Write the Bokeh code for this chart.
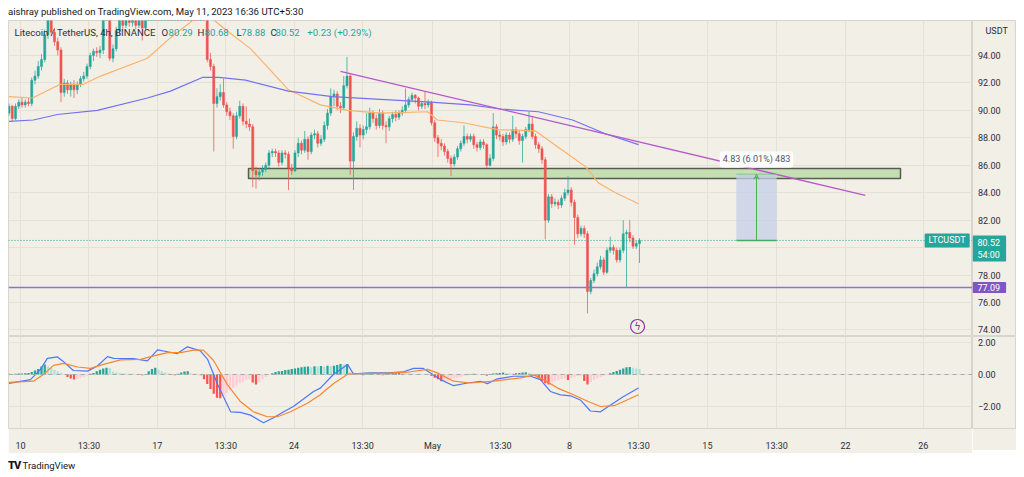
from bokeh.plotting import figure
from bokeh.layouts import column, row
from bokeh.models import (Range1d, FixedTicker, CustomJSTickFormatter,
                          Span, Label, Arrow, VeeHead, Div, ColumnDataSource)
from bokeh.core.properties import value
from bokeh.embed import file_html
from bokeh.resources import INLINE

# LTC/USDT 4h candles, Apr 9 05:30 .. May 11 13:30 (UTC+5:30)
opens = [89.8, 90.3, 89.4, 90.3, 90.6, 90.4, 90.6, 90.5, 92.2, 92.5,
         93.2, 93.7, 95.5, 97.0, 95.7, 95.0, 94.4, 91.3, 92.0, 91.5,
         91.9, 91.5, 91.9, 92.3, 92.5, 93.2, 94.0, 94.3, 94.2, 94.4,
         97.2, 97.5, 93.8, 94.5, 95.8, 96.6, 96.2, 96.8, 96.4, 96.6,
         96.2, 96.8, 96.0, 96.9, 97.3, 97.8, 98.4, 98.1, 98.9, 99.5,
         99.1, 99.8, 100.4, 99.9, 100.3, 99.6, 99.0, 99.3, 98.8, 98.4,
         98.6, 98.0, 93.7, 93.2, 90.5, 91.0, 91.3, 90.4, 89.9, 89.6,
         88.1, 89.6, 90.3, 89.2, 89.0, 88.8, 85.6, 85.3, 85.5, 85.7,
         86.0, 86.9, 87.0, 86.9, 86.2, 86.9, 86.8, 85.8, 85.6, 86.9,
         87.6, 87.1, 87.9, 87.0, 88.2, 88.3, 87.6, 87.9, 88.9, 89.8,
         91.0, 91.2, 90.3, 90.2, 91.8, 92.5, 86.3, 88.1, 88.7, 88.2,
         88.6, 88.8, 89.8, 89.4, 88.9, 89.8, 88.9, 88.8, 89.4, 89.7,
         89.5, 89.8, 90.0, 90.4, 90.8, 91.1, 90.9, 90.3, 90.5, 90.4,
         90.6, 89.1, 88.0, 87.6, 87.4, 87.0, 86.5, 86.1, 86.6, 87.2,
         87.6, 88.1, 87.9, 88.1, 87.5, 87.3, 87.7, 87.5, 86.0, 86.5,
         88.8, 88.2, 88.1, 87.7, 88.2, 87.9, 88.6, 88.3, 87.8, 88.1,
         88.6, 89.0, 88.1, 87.5, 87.2, 86.4, 82.0, 83.7, 83.2, 83.3,
         83.1, 83.6, 84.0, 84.2, 83.3, 82.2, 81.0, 81.4, 81.0, 76.8,
         77.6, 78.1, 78.6, 79.1, 78.2, 79.8, 80.0, 79.8, 79.1, 79.8,
         81.0, 81.1, 80.7, 80.1, 80.29]
highs = [90.5, 90.4, 90.5, 90.8, 90.9, 90.8, 90.9, 92.4, 92.9, 93.6,
         94.1, 95.9, 97.6, 97.3, 96.0, 95.3, 94.6, 92.3, 92.2, 92.1,
         92.2, 92.1, 92.5, 92.8, 93.4, 94.2, 94.5, 94.6, 94.7, 97.6,
         98.0, 97.8, 94.8, 96.1, 97.0, 96.9, 97.1, 97.0, 96.9, 96.8,
         97.0, 97.0, 97.2, 97.6, 98.1, 98.7, 98.8, 99.3, 99.9, 99.8,
         100.2, 100.8, 100.7, 100.6, 100.5, 99.8, 99.7, 99.5, 99.0, 98.9,
         98.8, 98.2, 94.2, 93.4, 91.6, 91.9, 92.3, 90.6, 90.2, 89.8,
         89.9, 90.7, 90.5, 90.3, 89.4, 89.0, 85.9, 85.8, 86.0, 86.2,
         87.1, 87.2, 87.2, 87.1, 87.1, 87.1, 87.0, 86.1, 87.1, 88.0,
         87.8, 88.5, 88.1, 88.4, 88.6, 88.5, 88.2, 89.2, 90.1, 91.6,
         91.5, 91.4, 90.6, 92.5, 93.9, 92.7, 88.4, 89.2, 89.0, 88.9,
         89.8, 90.2, 90.0, 89.7, 90.1, 90.0, 89.2, 89.6, 89.9, 90.0,
         90.0, 90.3, 91.6, 91.0, 91.3, 91.2, 91.0, 90.7, 91.4, 90.8,
         90.7, 89.3, 88.2, 87.9, 87.6, 87.2, 86.7, 86.8, 87.4, 87.8,
         88.9, 88.3, 88.3, 88.3, 87.7, 87.9, 87.9, 87.6, 86.8, 89.8,
         89.0, 88.5, 88.3, 88.4, 88.4, 89.6, 88.8, 88.5, 88.3, 88.8,
         89.9, 89.6, 88.3, 87.7, 87.4, 86.6, 83.9, 83.9, 83.6, 83.5,
         83.8, 84.3, 85.2, 84.4, 83.5, 82.4, 81.6, 81.6, 81.2, 77.8,
         78.4, 78.9, 79.4, 79.3, 80.0, 80.8, 80.2, 80.0, 80.0, 82.0,
         81.3, 82.0, 80.9, 80.5, 80.68]
lows = [89.6, 89.2, 89.3, 90.1, 90.2, 90.2, 90.3, 90.3, 91.9, 92.3,
        92.9, 93.5, 95.2, 95.4, 94.7, 94.0, 90.6, 91.0, 91.2, 91.0,
        90.9, 91.2, 91.7, 92.1, 92.3, 93.0, 93.6, 93.9, 93.8, 94.1,
        96.8, 93.6, 93.5, 94.3, 95.5, 95.8, 96.0, 96.1, 96.1, 95.9,
        96.0, 95.1, 95.8, 96.6, 97.1, 97.6, 97.8, 97.9, 98.6, 98.7,
        98.9, 99.5, 99.5, 99.6, 99.2, 98.6, 98.7, 98.4, 98.0, 98.1,
        97.6, 93.5, 92.9, 87.0, 90.2, 90.7, 90.2, 89.6, 89.3, 87.2,
        87.9, 89.4, 88.9, 88.7, 88.5, 84.4, 84.3, 84.9, 85.2, 85.5,
        85.8, 86.6, 86.6, 85.9, 86.0, 86.5, 84.2, 85.3, 85.5, 86.6,
        86.8, 86.9, 86.4, 86.8, 87.9, 87.3, 87.4, 87.7, 88.6, 89.6,
        90.3, 90.0, 89.8, 90.0, 91.6, 85.3, 84.2, 87.8, 87.3, 87.9,
        88.3, 88.6, 89.1, 88.6, 88.7, 88.6, 87.6, 88.5, 89.1, 89.2,
        89.3, 89.6, 89.8, 90.2, 90.6, 90.5, 90.0, 90.1, 90.1, 90.2,
        88.9, 87.7, 86.6, 87.1, 86.7, 86.2, 85.2, 85.9, 86.4, 87.0,
        87.4, 87.6, 87.7, 87.2, 87.0, 87.1, 87.2, 85.8, 85.9, 86.3,
        87.9, 87.8, 87.4, 87.5, 87.6, 87.7, 88.0, 87.5, 86.2, 87.9,
        88.4, 87.9, 87.2, 86.9, 86.1, 80.6, 81.8, 82.9, 83.0, 82.8,
        82.9, 83.4, 83.8, 83.0, 80.2, 80.7, 80.8, 80.7, 75.2, 76.6,
        77.4, 77.9, 78.4, 78.0, 78.1, 79.6, 79.5, 78.9, 78.9, 79.6,
        77.1, 80.4, 79.9, 79.9, 78.88]
closes = [90.3, 89.4, 90.3, 90.6, 90.4, 90.6, 90.5, 92.2, 92.5, 93.2,
          93.7, 95.5, 97.0, 95.7, 95.0, 94.4, 91.3, 92.0, 91.5, 91.9,
          91.5, 91.9, 92.3, 92.5, 93.2, 94.0, 94.3, 94.2, 94.4, 97.2,
          97.5, 93.8, 94.5, 95.8, 96.6, 96.2, 96.8, 96.4, 96.6, 96.2,
          96.8, 96.0, 96.9, 97.3, 97.8, 98.4, 98.1, 98.9, 99.5, 99.1,
          99.8, 100.4, 99.9, 100.3, 99.6, 99.0, 99.3, 98.8, 98.4, 98.6,
          98.0, 93.7, 93.2, 90.5, 91.0, 91.3, 90.4, 89.9, 89.6, 88.1,
          89.6, 90.3, 89.2, 89.0, 88.8, 85.6, 85.3, 85.5, 85.7, 86.0,
          86.9, 87.0, 86.9, 86.2, 86.9, 86.8, 85.8, 85.6, 86.9, 87.6,
          87.1, 87.9, 87.0, 88.2, 88.3, 87.6, 87.9, 88.9, 89.8, 91.0,
          91.2, 90.3, 90.2, 91.8, 92.5, 86.3, 88.1, 88.7, 88.2, 88.6,
          88.8, 89.8, 89.4, 88.9, 89.8, 88.9, 88.8, 89.4, 89.7, 89.5,
          89.8, 90.0, 90.4, 90.8, 91.1, 90.9, 90.3, 90.5, 90.4, 90.6,
          89.1, 88.0, 87.6, 87.4, 87.0, 86.5, 86.1, 86.6, 87.2, 87.6,
          88.1, 87.9, 88.1, 87.5, 87.3, 87.7, 87.5, 86.0, 86.5, 88.8,
          88.2, 88.1, 87.7, 88.2, 87.9, 88.6, 88.3, 87.8, 88.1, 88.6,
          89.0, 88.1, 87.5, 87.2, 86.4, 82.0, 83.7, 83.2, 83.3, 83.1,
          83.6, 84.0, 84.2, 83.3, 82.2, 81.0, 81.4, 81.0, 76.8, 77.6,
          78.1, 78.6, 79.1, 78.2, 79.8, 80.0, 79.8, 79.1, 79.8, 81.0,
          81.1, 80.7, 80.1, 80.29, 80.52]

# MACD histogram, one bar per candle
macd_hist = [0.05, -0.03, 0.05, 0.06, 0.07, 0.08, 0.10, 0.15, 0.25, 0.35,
             0.50, 0.63, 0.50, 0.40, 0.30, 0.20, 0.10, 0.02, -0.15, -0.25,
             -0.32, -0.30, -0.22, -0.15, -0.08, 0.05, 0.10, 0.20, 0.30, 0.38,
             0.42, 0.40, 0.18, 0.12, 0.10, 0.08, 0.06, 0.05, 0.04, 0.03,
             -0.03, -0.05, 0.02, 0.20, 0.35, 0.42, 0.30, 0.20, 0.12, 0.06,
             0.02, -0.04, 0.05, 0.12, 0.18, 0.20, 0.08, 0.05, 0.02, -0.04,
             -0.30, -0.60, -0.90, -1.20, -1.45, -1.48, -1.30, -1.15, -1.00, -0.85,
             -0.70, -0.55, -0.45, -0.35, -0.30, -0.50, -0.63, -0.45, -0.30, -0.15,
             -0.05, 0.08, 0.15, 0.20, 0.22, 0.28, 0.30, 0.35, 0.38, 0.42,
             0.45, 0.48, 0.50, 0.46, 0.52, 0.50, 0.53, 0.48, 0.55, 0.53,
             0.55, 0.60, 0.65, 0.62, 0.65, 0.12, 0.08, 0.05, 0.03, -0.04,
             0.05, 0.06, 0.08, 0.05, 0.04, -0.05, 0.06, 0.08, 0.10, 0.12,
             0.15, 0.12, 0.10, 0.08, 0.06, 0.05, 0.04, 0.03, 0.02, 0.01,
             -0.10, -0.20, -0.30, -0.42, -0.40, -0.38, -0.30, -0.25, -0.20, -0.15,
             -0.10, -0.06, 0.03, 0.05, 0.04, 0.02, 0.03, -0.08, 0.02, 0.06,
             0.08, 0.10, 0.12, 0.10, 0.08, 0.06, 0.08, 0.10, 0.12, 0.14,
             0.10, 0.05, -0.10, -0.25, -0.40, -0.55, -0.63, -0.50, -0.40, -0.35,
             -0.30, -0.25, -0.35, -0.20, -0.15, -0.10, -0.10, -0.40, -0.63, -0.45,
             -0.35, -0.25, -0.15, -0.08, -0.03, 0.08, 0.15, 0.22, 0.30, 0.38,
             0.45, 0.47, 0.42, 0.38, 0.35]

# moving averages on the price pane (candle index, price)
ma_fast_x = [0, 7.2, 15.8, 22.9, 28.2, 42.6, 49.7, 56.8, 60.5, 63.5, 66.6, 74.3, 86.0,
             95.8, 104.2, 114.3, 128.8, 131.8, 139.8, 150.3, 162.0, 170.3, 177.4, 181.4,
             186.6, 193.7]
ma_fast_y = [91.0, 90.9, 91.9, 91.9, 92.5, 93.8, 95.3, 96.6, 97.0, 96.5, 95.9, 94.5, 91.5,
             90.4, 90.0, 89.8, 89.9, 89.3, 89.1, 88.6, 88.5, 87.1, 85.9, 84.7,
             84.0, 83.2]
ma_slow_x = [0, 7.5, 14.9, 27.2, 42.6, 49.7, 59.5, 64.5, 72.8, 86.0, 99.5, 114.3, 129.7,
             142.0, 151.2, 162.9, 173.4, 183.5, 193.7]
ma_slow_y = [89.2, 89.3, 89.7, 90.0, 90.9, 91.4, 92.4, 92.4, 92.2, 91.4, 91.0, 90.8, 90.6,
             90.4, 90.1, 89.9, 89.3, 88.3, 87.5]

# MACD and signal lines
macd_x = [0, 6.6, 9.7, 11.8, 14.9, 16.5, 19.8, 24.2, 27.2, 30.3, 32.2, 38.3, 42.6, 45.7,
          48.8, 51.8, 54.9, 58.9, 61.1, 64.2, 68.2, 71.2, 74.3, 78.3, 81.4, 84.5, 87.5,
          93.7, 95.8, 99.8, 104.2, 105.1, 106.0, 111.2, 116.5, 121.4, 124.5, 127.5, 129.7,
          132.8, 136.8, 141.1, 145.1, 147.2, 150.3, 155.2, 160.5, 163.5, 166.6, 169.7,
          172.8, 175.8, 178.9, 182.0, 185.1, 189.1, 193.7]
macd_y = [-0.55, -0.32, 0.32, 1.01, 1.10, 0.85, 0.25, 0.21, 0.53, 1.12, 1.01, 0.99, 0.85, 1.54,
          1.42, 1.31, 1.73, 1.48, 0.95, -0.63, -2.33, -2.37, -2.54, -3.02, -2.70, -2.33, -2.00,
          -1.06, -0.85, 0.0, 0.63, 0.32, 0.04, 0.10, 0.10, 0.17, 0.38, 0.38, 0.10,
          -0.32, -0.70, -0.53, -0.42, -0.57, -0.27, -0.11, -0.11, -0.32, -1.06, -1.27,
          -1.33, -1.59, -2.28, -2.33, -1.90, -1.37, -0.85]
signal_x = [0, 7.5, 10.6, 13.7, 16.8, 21.1, 25.1, 29.1, 34.3, 40.5, 44.5, 48.8, 52.8, 56.8,
            59.8, 62.9, 67.2, 71.2, 75.2, 79.5, 82.6, 86.6, 91.8, 95.8, 97.0, 100.0, 104.2,
            109.1, 116.5, 123.5, 128.8, 131.8, 136.8, 142.0, 149.1, 157.4, 161.5, 164.5,
            168.8, 173.7, 178.2, 182.0, 186.2, 193.7]
signal_y = [-0.49, -0.42, 0.0, 0.57, 0.70, 0.47, 0.38, 0.63, 0.91, 0.95, 1.16, 1.37, 1.37, 1.52,
            1.52, 0.89, -0.63, -1.69, -2.33, -2.64, -2.64, -2.33, -1.80, -1.27, -1.05, -0.55, 0.02,
            0.06, 0.08, 0.17, 0.32, 0.10, -0.42, -0.53, -0.42, -0.21, -0.04, -0.32,
            -0.85, -1.27, -1.69, -2.00, -1.95, -1.27]

# drawings
trend_x = [102.0, 263.5]
trend_y = [92.85, 83.8]
zone = dict(left=73.7, right=274.3, bottom=85.04, top=85.76)
measure = dict(left=223.8, right=236.2, bottom=80.52, top=85.35)
measure_text = "4.83 (6.01%) 483"
support_level = 77.09
last_price = 80.52

tick_pos = [3.54, 24.6, 45.6, 66.7, 87.7, 108.8, 130.3, 151.2, 172.5, 193.7, 214.9, 236.2, 257.4, 281.3]
tick_labels = ["10", "13:30", "17", "13:30", "24", "13:30", "May", "13:30", "8", "13:30",
               "15", "13:30", "22", "26"]
price_ticks = [74, 76, 78, 80, 82, 84, 86, 88, 90, 92, 94]
macd_ticks = [-2, 0, 2]
macd_tick_labels = ["\u22122.00", "0.00", "2.00"]

assert len(opens) == len(highs) == len(lows) == len(closes) == len(macd_hist) == 195

BG = "#f2efe7"
GRID = "#e5e1d7"
EDGE = "#d9d5cb"
UP = "#26a69a"
DOWN = "#ef5350"
PURPLE = "#7e57c2"
FONT = "Roboto"
TXT = "#2a2e39"

idx = list(range(len(closes)))
col = [UP if c >= o else DOWN for o, c in zip(opens, closes)]
src = ColumnDataSource(dict(x=idx, o=opens, h=highs, l=lows, c=closes,
                            top=[max(o, c) for o, c in zip(opens, closes)],
                            bot=[min(o, c) for o, c in zip(opens, closes)], col=col))

hcol = []
prev = 0
for v in macd_hist:
    if v >= 0:
        hcol.append("#26a69a" if v >= prev else "#b2dfdb")
    else:
        hcol.append("#ffcdd2" if v >= prev else "#ff5252")
    prev = v

xr = Range1d(-0.15, 296.46)
scale_x = Range1d(0, 44)   # the 44px price-scale strip on the right


def style(fig):
    fig.background_fill_color = BG
    fig.border_fill_color = BG
    fig.outline_line_color = EDGE
    fig.grid.grid_line_color = GRID
    fig.grid.grid_line_width = 1


def scale_fig(yr, h, bottom):
    s = figure(frame_width=44, frame_height=h, x_range=scale_x, y_range=yr,
               x_axis_location=None, y_axis_location=None, toolbar_location=None,
               output_backend="svg", min_border_left=0, min_border_right=0,
               min_border_top=0, min_border_bottom=bottom)
    style(s)
    s.grid.visible = False
    return s


def tag(fig, y, text, bg, baseline="middle"):
    fig.add_layout(Label(x=0, y=y, text=text, text_color="white", text_font=FONT,
                         text_font_size="9px", text_align="left", text_baseline=baseline,
                         background_fill_color=bg, border_radius=1,
                         padding=dict(left=5, right=6, top=2, bottom=2)))


# ---- price pane
p = figure(frame_width=964, frame_height=316, x_range=xr, y_range=Range1d(73.52, 96.55),
           x_axis_location=None, y_axis_location=None, toolbar_location=None,
           output_backend="svg", min_border_left=0, min_border_right=0,
           min_border_top=0, min_border_bottom=0)
style(p)
p.ygrid.ticker = FixedTicker(ticks=price_ticks)
p.xgrid.ticker = FixedTicker(ticks=tick_pos)

p.quad(left=zone["left"], right=zone["right"], bottom=zone["bottom"], top=zone["top"],
       fill_color="#c4e0b3", line_color="#5a5a55", line_width=1.5)

p.segment("x", "l", "x", "h", source=src, color="col", line_width=1, line_alpha=0.75)
p.vbar(x="x", width=0.64, top="top", bottom="bot", source=src, fill_color="col",
       line_color="col", line_width=0.5)

p.line(ma_fast_x, ma_fast_y, line_color="#fbb26b", line_width=1.2)
p.line(ma_slow_x, ma_slow_y, line_color="#7272f0", line_width=1.2)
p.line(trend_x, trend_y, line_color="#b459c9", line_width=1.3)

p.hspan(y=[support_level], line_color="#9170d8", line_width=1.5)
p.add_layout(Span(location=last_price, dimension="width", line_color=UP, line_width=1,
                  line_dash="1 2"))

# measuring tool
p.quad(left=measure["left"], right=measure["right"], bottom=measure["bottom"], top=measure["top"],
       fill_color="#c3cfe8", fill_alpha=0.75, line_color=None)
mid = (measure["left"] + measure["right"]) / 2
p.segment(measure["left"], measure["bottom"], measure["right"], measure["bottom"],
          line_color="#4caf50", line_width=1.5)
p.segment(measure["left"], measure["top"], measure["right"], measure["top"],
          line_color="#4caf50", line_width=1, line_alpha=0.5)
p.add_layout(Arrow(end=VeeHead(size=5, line_color="#4caf50", line_width=1, fill_color=None),
                   x_start=mid, y_start=measure["bottom"], x_end=mid, y_end=measure["top"],
                   line_color="#4caf50", line_width=1))
p.add_layout(Label(x=mid, y=86.42, text=measure_text, text_align="center", text_baseline="middle",
                   text_font=FONT, text_font_size="9px", text_color="#50535e",
                   background_fill_color="white", padding=3, border_radius=3))

# replay icon
p.scatter([193.4], [74.25], size=14, marker="circle", fill_color=BG, line_color="#9c27b0",
          line_width=1.2)
p.text([193.4], [74.25], text=["ϟ"], text_align="center", text_baseline="middle",
       text_color="#9c27b0", text_font_size="10px", text_font=value("DejaVu Sans"))

# legend line
legend_bits = [(1.7, "Litecoin / TetherUS, 4h, BINANCE", TXT), (46.9, "O", TXT), (49.1, "80.29", UP),
               (58.0, "H", TXT), (60.2, "80.68", UP), (70.0, "L", TXT), (71.5, "78.88", UP),
               (80.5, "C", TXT), (82.0, "80.52", UP), (91.8, "+0.23 (+0.29%)", UP)]
for lx, lt, lc in legend_bits:
    p.add_layout(Label(x=lx, y=95.68, text=lt, text_color=lc, text_font=FONT,
                       text_font_size="9.6px", text_baseline="middle"))

p.add_layout(Label(x=295.6, y=last_price, text="LTCUSDT", text_color="white", text_font=FONT,
                   text_font_size="9px", text_align="right", text_baseline="middle",
                   background_fill_color=UP, border_radius=1,
                   padding=dict(left=4, right=4, top=2, bottom=2)))

# price scale strip
ps = scale_fig(p.y_range, 316, 0)
ps.text([5.5] * len(price_ticks), price_ticks, text=[f"{t:.2f}" for t in price_ticks],
        text_font=value(FONT), text_font_size="9px", text_color=TXT, text_baseline="middle")
ps.add_layout(Label(x=13, y=95.82, text="USDT", text_color=TXT, text_font=FONT,
                    text_font_size="9px", text_baseline="middle"))
tag(ps, last_price + 0.36, "80.52\n54:00", UP, baseline="top")
tag(ps, support_level, "77.09", PURPLE)

# ---- MACD pane
m = figure(frame_width=964, frame_height=92, x_range=xr, y_range=Range1d(-3.375, 2.375),
           y_axis_location=None, toolbar_location=None, output_backend="svg",
           min_border_left=0, min_border_right=0, min_border_top=0, min_border_bottom=22)
style(m)
m.ygrid.ticker = FixedTicker(ticks=macd_ticks)
m.xaxis.ticker = FixedTicker(ticks=tick_pos)
m.xaxis.formatter = CustomJSTickFormatter(args=dict(pos=tick_pos, lab=tick_labels), code="""
    for (let k = 0; k < pos.length; k++) { if (Math.abs(pos[k] - tick) < 0.01) return lab[k]; }
    return '';""")
m.xaxis.axis_line_color = None
m.xaxis.major_tick_line_color = None
m.xaxis.minor_tick_line_color = None
m.xaxis.major_label_text_font = FONT
m.xaxis.major_label_text_font_size = "9px"
m.xaxis.major_label_text_color = TXT
m.xaxis.major_label_standoff = 6

m.add_layout(Span(location=0, dimension="width", line_color="#a8a8a8", line_width=1,
                  line_dash="4 4"))
m.vbar(x=idx, width=0.7, top=macd_hist, bottom=0, fill_color=hcol, line_color=None)
m.line(macd_x, macd_y, line_color="#4f77f5", line_width=1.2)
m.line(signal_x, signal_y, line_color="#f7872f", line_width=1.2)

ms = scale_fig(m.y_range, 92, 22)
ms.text([5.5] * len(macd_ticks), macd_ticks, text=macd_tick_labels,
        text_font=value(FONT), text_font_size="9px", text_color=TXT, text_baseline="middle")

header = Div(text='<div style="font-family:Roboto;font-size:9.6px;color:#131722;'
                  'line-height:12px;white-space:nowrap;position:relative;top:-5px">'
                  'aishray published on TradingView.com, May 11, 2023 16:36 UTC+5:30</div>',
             width=1008, height=12, margin=(0, 0, 0, 0))
footer = Div(text='<div style="font-family:Roboto;font-size:9.6px;color:#131722;'
                  'padding-top:5px;white-space:nowrap">'
                  '<span style="font-weight:900;font-size:11px;letter-spacing:-1px">TV</span>'
                  ' TradingView</div>',
             width=1008, height=19, margin=(0, 0, 0, 0))

layout = column(header, row(p, ps, spacing=0), row(m, ms, spacing=0), footer,
                spacing=0, margin=(8, 0, 0, 8))
open("out.html", "w").write(file_html(layout, INLINE))
